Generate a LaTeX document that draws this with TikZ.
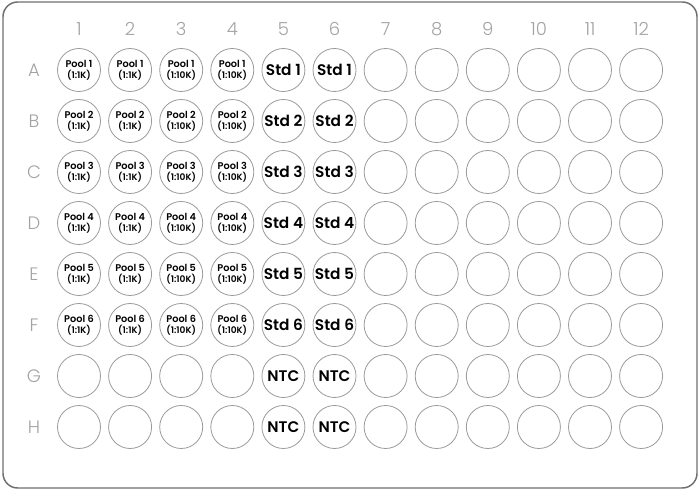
\documentclass[tikz,border=0pt]{standalone}
\usepackage{fontspec}
\setmainfont{Poppins}[BoldFont={* SemiBold}]
\newfontfamily\platelight{Poppins}[UprightFont={* Light}]
\definecolor{wellgray}{HTML}{9A9A9A}
\definecolor{labelgray}{HTML}{A3A3A3}
\definecolor{framegray}{HTML}{6E6E6E}

\tikzset{
  well/.style={circle, draw=wellgray, line width=0.6pt, minimum size=32.25pt, inner sep=0pt, align=center},
  pooltext/.style={font=\bfseries\fontsize{7.3}{7.8}\selectfont},
  stdtext/.style={font=\bfseries\fontsize{11.5}{13}\selectfont},
  platelabel/.style={text=labelgray, font=\platelight\fontsize{13.5}{14}\selectfont},
}

\begin{document}
\begin{tikzpicture}[x=0.75pt,y=-0.75pt]
  \useasboundingbox (0,0) rectangle (699,491);
  \draw[framegray, line width=1.1pt, rounded corners=11pt] (3,2) rectangle (697,488);

  \foreach \c in {1,...,12}
    \node[platelabel] (col\c) at ({79+51.1*(\c-1)},29) {\c};
  \foreach \r [count=\i] in {A,...,H}
    \node[platelabel] (row\r) at (34,{70+51*(\i-1)}) {\r};

  \foreach \r [count=\i] in {A,...,F} {
    \foreach \c/\dil in {1/1K,2/1K,3/10K,4/10K}
      \node[well, pooltext] (w\r\c) at ({79+51.1*(\c-1)},{70+51*(\i-1)})
        {Pool \i\\[0.6pt]{\fontsize{6.8}{7.4}\selectfont(1:\dil)}};
    \foreach \c in {5,6}
      \node[well, stdtext] (w\r\c) at ({79+51.1*(\c-1)},{70+51*(\i-1)}) {Std \i};
  }
  \foreach \r [count=\i from 7] in {G,H} {
    \foreach \c in {1,...,4}
      \node[well] (w\r\c) at ({79+51.1*(\c-1)},{70+51*(\i-1)}) {};
    \foreach \c in {5,6}
      \node[well, stdtext] (w\r\c) at ({79+51.1*(\c-1)},{70+51*(\i-1)}) {NTC};
  }
  \foreach \r [count=\i] in {A,...,H}
    \foreach \c in {7,...,12}
      \node[well] (w\r\c) at ({79+51.1*(\c-1)},{70+51*(\i-1)}) {};
\end{tikzpicture}
\end{document}
